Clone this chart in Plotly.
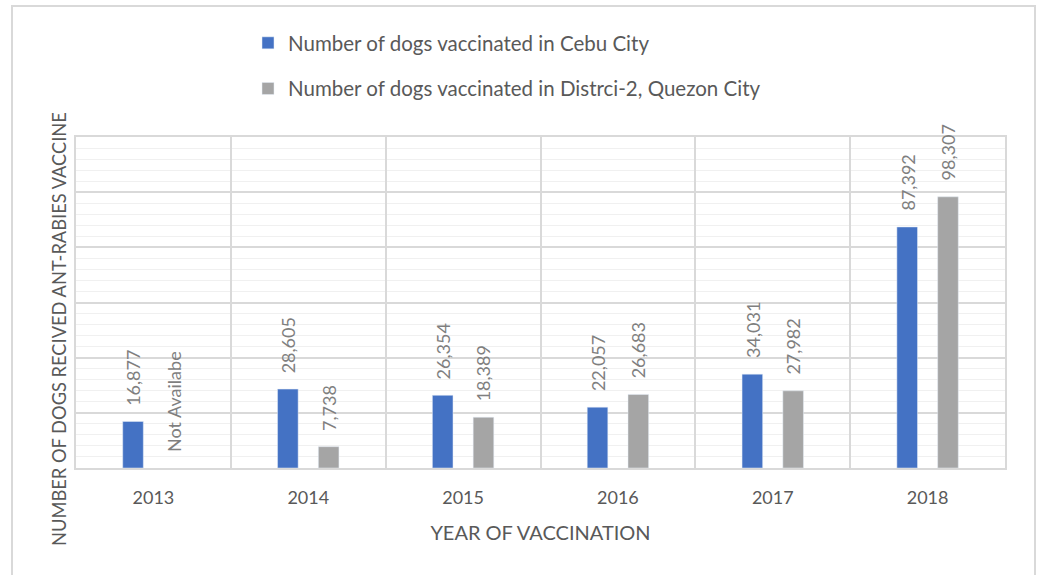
import plotly.graph_objects as go

years = ["2013", "2014", "2015", "2016", "2017", "2018"]
cebu = [16877, 28605, 26354, 22057, 34031, 87392]
quezon = [None, 7738, 18389, 26683, 27982, 98307]
series_names = ["Number of dogs vaccinated in Cebu City",
                "Number of dogs vaccinated in Distrci-2, Quezon City"]
missing_label = "Not Availabe"
x_title = "YEAR OF VACCINATION"
y_title = "NUMBER OF DOGS RECIVED ANT-RABIES VACCINE"

BLUE = "#4472C4"
GREY = "#A5A5A5"
FONT = "Lato, Carlito, 'Liberation Sans', sans-serif"

L, R, T, B = 76, 33, 137, 107
PW, PH = 1038 - L - R, 575 - T - B

fig = go.Figure()
fig.add_trace(go.Bar(x=years, y=cebu, name=series_names[0], marker_color=BLUE,
                     legendgroup="a"))
fig.add_trace(go.Bar(x=years, y=quezon, name=series_names[1], marker_color=GREY,
                     legendgroup="b"))

annotations = []
for vals, shift in ((cebu, -20), (quezon, 20)):
    for i, v in enumerate(vals):
        annotations.append(dict(
            x=i, y=v if v is not None else 0, xref="x", yref="y",
            text=f"{v:,}" if v is not None else missing_label,
            textangle=-90, showarrow=False, xanchor="center", yanchor="bottom",
            xshift=shift, yshift=14,
            font=dict(family=FONT, size=18, color="#7F7F7F")))

# y-axis title
annotations.append(dict(
    text=y_title, xref="paper", yref="paper", x=(59 - L) / PW, y=(468 - 329) / PH,
    textangle=-90, showarrow=False, xanchor="center", yanchor="middle",
    font=dict(family=FONT, size=18.3, color="#595959")))

fig.update_layout(
    width=1038, height=575,
    margin=dict(l=L, r=R, t=T, b=B, autoexpand=False),
    paper_bgcolor="white", plot_bgcolor="white",
    barmode="group", bargap=0.473, bargroupgap=0.495,
    font=dict(family=FONT, color="#595959"),
    legend=dict(xref="container", yref="container", x=248/1038, y=1-23/575,
                xanchor="left", yanchor="top", orientation="v",
                font=dict(size=20.5, color="#595959"), tracegroupgap=16,
                traceorder="grouped", itemclick=False),
    annotations=annotations,
    shapes=[dict(type="rect", xref="paper", yref="paper",
                 x0=(12 - L) / PW, x1=(1035 - L) / PW, y0=-0.45, y1=(468 - 6) / PH,
                 line=dict(color="#D9D9D9", width=2), layer="below")],
    xaxis=dict(type="category", range=[-0.5, len(years) - 0.5], autorange=False,
               tickson="boundaries", showgrid=True, tickangle=0,
               gridcolor="#D9D9D9", gridwidth=1.5, ticks="", showline=True,
               linecolor="#D9D9D9", linewidth=1.5, mirror=True,
               tickfont=dict(size=18, color="#595959"), ticklabelstandoff=13,
               title=dict(text=x_title, font=dict(size=20, color="#595959"),
                          standoff=19)),
    yaxis=dict(range=[0, 120000], dtick=20000, showticklabels=False, ticks="",
               showgrid=True, gridcolor="#D9D9D9", gridwidth=1.5, zeroline=False,
               showline=True, linecolor="#D9D9D9", linewidth=1.5, mirror=True,
               minor=dict(dtick=4000, showgrid=True, gridcolor="#F0F0F0", gridwidth=1)),
)

fig.write_html("out.html", config={"displayModeBar": False},
               post_script="document.body.style.margin='0';")
